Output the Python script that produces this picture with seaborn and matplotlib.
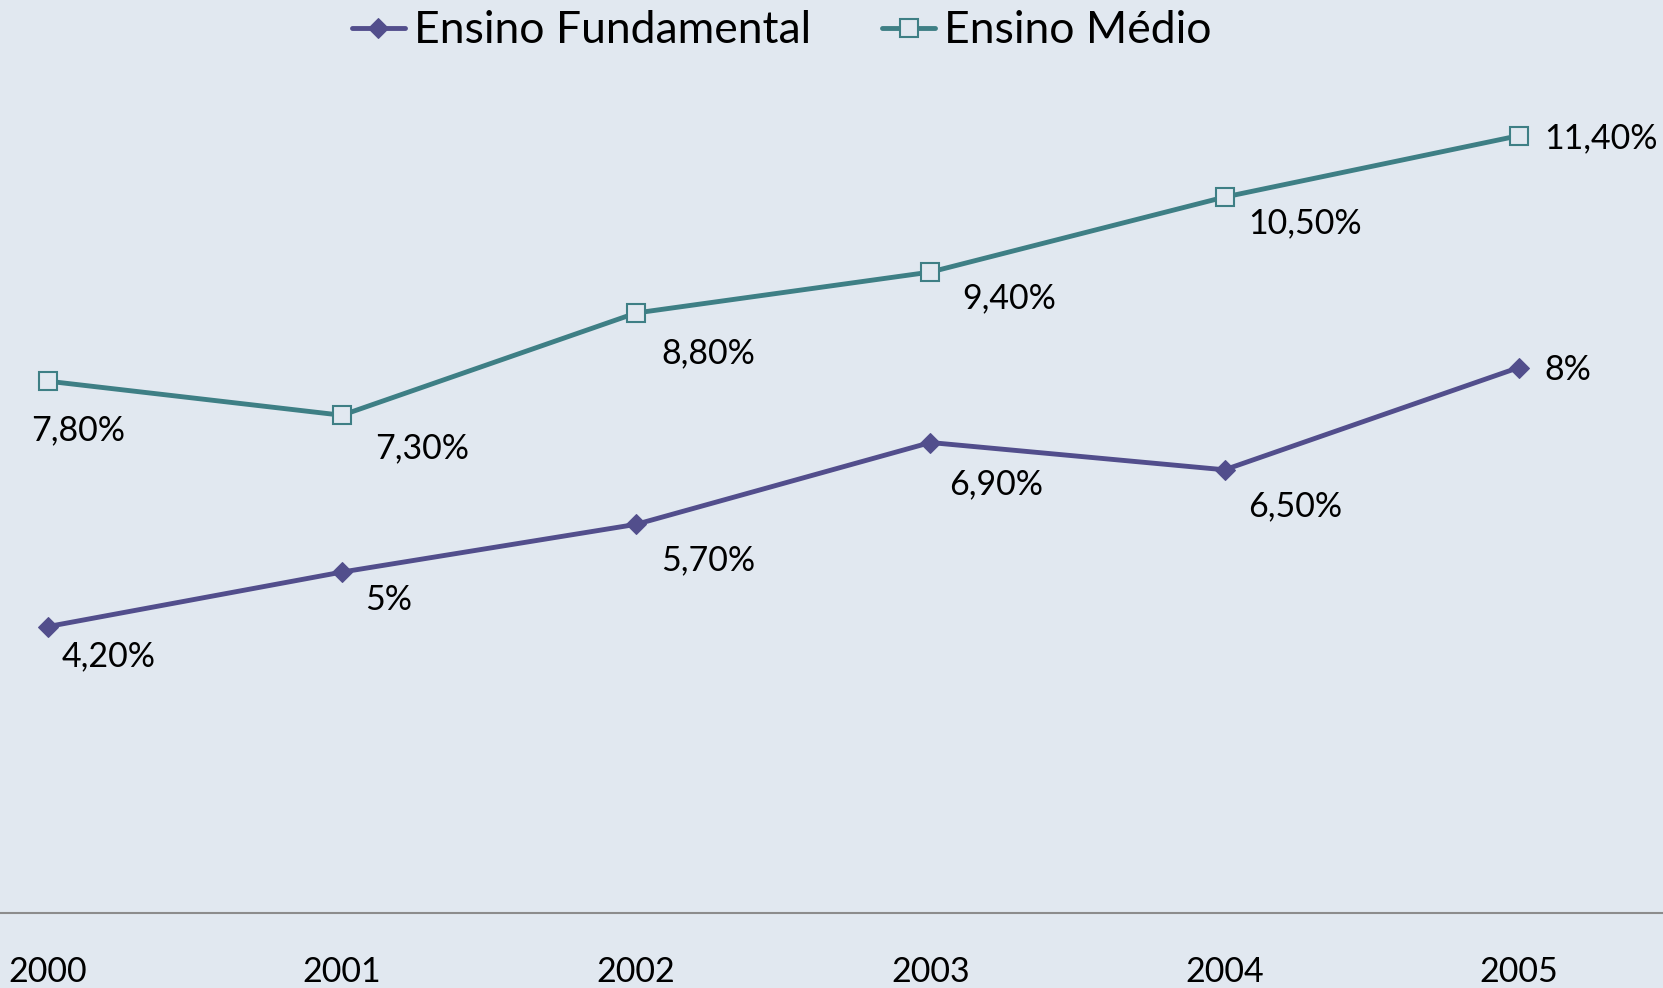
import numpy as np
import pandas as pd
import matplotlib.pyplot as plt
import seaborn as sns

# dados
anos = [2000, 2001, 2002, 2003, 2004, 2005]
fundamental = [4.2, 5.0, 5.7, 6.9, 6.5, 8.0]
medio = [7.8, 7.3, 8.8, 9.4, 10.5, 11.4]
rot_fundamental = ['4,20%', '5%', '5,70%', '6,90%', '6,50%', '8%']
rot_medio = ['7,80%', '7,30%', '8,80%', '9,40%', '10,50%', '11,40%']

# deslocamento dos rotulos (pontos)
desl_fund = [(44, -21), (34, -20), (52, -26), (47, -30), (51, -26), (35, -2)]
desl_med = [(22, -35), (58, -24), (52, -29), (57, -19), (58, -19), (59, -2)]

bg = '#E1E8F0'
cor_fund = '#524E8C'
cor_med = '#3E7F85'

sns.set_style('white')
plt.rcParams['font.family'] = ['Lato', 'DejaVu Sans']
plt.rcParams['text.color'] = 'black'
plt.rcParams['xtick.color'] = 'black'

df = pd.DataFrame({'ano': anos, 'fund': fundamental, 'med': medio})

fig = plt.figure(figsize=(16.63, 9.88), dpi=100, facecolor=bg)
ax = fig.add_axes([0, (988 - 913) / 988, 1, 913 / 988])
ax.set_facecolor(bg)

sns.lineplot(data=df, x='ano', y='fund', ax=ax, color=cor_fund, lw=3.5,
             marker='D', markersize=10, markeredgecolor=cor_fund,
             markerfacecolor=cor_fund, label='Ensino Fundamental')
sns.lineplot(data=df, x='ano', y='med', ax=ax, color=cor_med, lw=3.5,
             marker='s', markersize=13, markeredgecolor=cor_med,
             markerfacecolor=bg, markeredgewidth=1.5, label='Ensino Médio')

for x, y, t, d in zip(anos, fundamental, rot_fundamental, desl_fund):
    ax.annotate(t, (x, y), xytext=d, textcoords='offset points',
                ha='center', va='center', fontsize=24.5, color='black')
for x, y, t, d in zip(anos, medio, rot_medio, desl_med):
    ax.annotate(t, (x, y), xytext=d, textcoords='offset points',
                ha='center', va='center', fontsize=24.5, color='black')

ax.set_xlim(1999.838, 2005.49)
ax.set_ylim(0, 13.39)
ax.set_xticks(anos)
ax.set_xticklabels([str(a) for a in anos], fontsize=24.5, color='black')
ax.set_yticks([])
ax.set_xlabel('')
ax.set_ylabel('')
ax.tick_params(axis='x', length=0, pad=31)
for s in ['top', 'left', 'right']:
    ax.spines[s].set_visible(False)
ax.spines['bottom'].set_color('#8C8C8C')
ax.spines['bottom'].set_linewidth(1.5)

ax.get_legend().remove()
h, l = ax.get_legend_handles_labels()
fig.legend(h, l, loc='center', bbox_to_anchor=(0.47, 0.969), ncol=2,
           frameon=False, fontsize=32, handlelength=1.2, handletextpad=0.2,
           columnspacing=1.6, labelcolor='black')

fig.savefig('out.png', dpi=100, facecolor=bg)
